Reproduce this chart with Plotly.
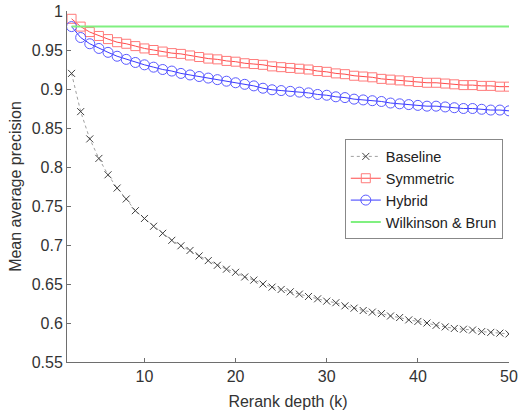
import plotly.graph_objects as go

k = list(range(2, 51))

baseline = [0.920, 0.871, 0.836, 0.811, 0.790, 0.773, 0.759, 0.744, 0.734,
            0.724, 0.715, 0.706, 0.699, 0.693, 0.686, 0.680, 0.674, 0.669, 0.665,
            0.659, 0.655, 0.650, 0.646, 0.643, 0.640, 0.637, 0.634, 0.631, 0.628,
            0.626, 0.622, 0.619, 0.616, 0.614, 0.612, 0.609, 0.607, 0.604, 0.602,
            0.600, 0.597, 0.595, 0.593, 0.592, 0.591, 0.589, 0.588, 0.587, 0.586]

symmetric = [0.990, 0.980, 0.973, 0.968, 0.964, 0.960, 0.958, 0.955, 0.952,
             0.950, 0.948, 0.946, 0.945, 0.943, 0.941, 0.939, 0.938, 0.936, 0.935,
             0.933, 0.932, 0.931, 0.929, 0.928, 0.927, 0.926, 0.925, 0.923, 0.922,
             0.920, 0.919, 0.917, 0.916, 0.915, 0.913, 0.912, 0.911, 0.910, 0.909,
             0.908, 0.908, 0.907, 0.906, 0.905, 0.905, 0.904, 0.904, 0.903, 0.903]

hybrid = [0.980, 0.966, 0.958, 0.952, 0.947, 0.942, 0.938, 0.934, 0.931,
          0.928, 0.925, 0.923, 0.920, 0.918, 0.916, 0.914, 0.912, 0.910, 0.908,
          0.906, 0.904, 0.901, 0.899, 0.898, 0.897, 0.896, 0.895, 0.893, 0.892,
          0.890, 0.889, 0.887, 0.886, 0.885, 0.884, 0.882, 0.881, 0.880, 0.879,
          0.878, 0.878, 0.877, 0.876, 0.875, 0.875, 0.874, 0.873, 0.873, 0.872]

wilkinson_value = 0.98
wilkinson = [wilkinson_value] * len(k)

y_ticks = [0.55, 0.6, 0.65, 0.7, 0.75, 0.8, 0.85, 0.9, 0.95, 1.0]
y_tick_labels = ["0.55", "0.6", "0.65", "0.7", "0.75", "0.8", "0.85", "0.9", "0.95", "1"]
x_ticks = [10, 20, 30, 40, 50]

fig = go.Figure()
fig.add_trace(go.Scatter(
    x=k, y=baseline, name="Baseline", mode="lines+markers",
    line=dict(color="#a0a0a0", width=1, dash="dot"),
    marker=dict(symbol="x-thin-open", size=7, color="#404040",
                line=dict(color="#404040", width=1))))
fig.add_trace(go.Scatter(
    x=k, y=symmetric, name="Symmetric", mode="lines+markers",
    line=dict(color="#ff4a4a", width=1),
    marker=dict(symbol="square-open", size=9, color="#ff7a7a",
                line=dict(color="#ff7a7a", width=1))))
fig.add_trace(go.Scatter(
    x=k, y=hybrid, name="Hybrid", mode="lines+markers",
    line=dict(color="#3a3aff", width=1),
    marker=dict(symbol="circle-open", size=10, color="#5a5aff",
                line=dict(color="#5a5aff", width=1))))
fig.add_trace(go.Scatter(
    x=k, y=wilkinson, name="Wilkinson & Brun", mode="lines",
    line=dict(color="#80f080", width=2)))

axis_common = dict(
    showline=True, linecolor="#6e6e6e", linewidth=1, mirror=False,
    ticks="inside", ticklen=4, tickcolor="#6e6e6e", tickwidth=1,
    showgrid=False, zeroline=False, automargin=False,
    tickfont=dict(size=16, color="#333333"),
)

fig.update_layout(
    width=520, height=416,
    margin=dict(l=67, r=11, t=11, b=54),
    paper_bgcolor="white", plot_bgcolor="white",
    font=dict(family="Liberation Sans, Arial, sans-serif", size=16, color="#333333"),
    xaxis=dict(range=[1.5, 50], tickvals=x_ticks,
               title=dict(text="Rerank depth (k)", font=dict(size=16), standoff=11),
               **axis_common),
    yaxis=dict(range=[0.55, 1.0], tickvals=y_ticks, ticktext=y_tick_labels,
               title=dict(text="Mean average precision", font=dict(size=16), standoff=6),
               **axis_common),
    legend=dict(x=0.986, y=0.634, xanchor="right", yanchor="top",
                bgcolor="white", bordercolor="#888888", borderwidth=1,
                font=dict(size=14.5, color="#222222"),
                tracegroupgap=0, itemwidth=30),
    showlegend=True,
)

fig.write_html("out.html",
               config={"displayModeBar": False},
               post_script="document.body.style.margin='0';document.body.style.overflow='hidden';")
